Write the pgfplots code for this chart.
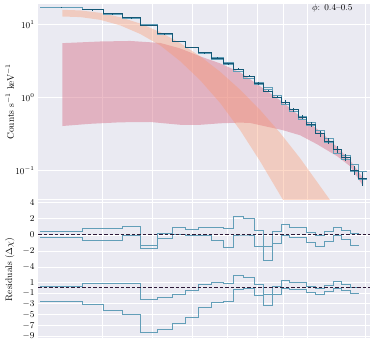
\documentclass[border=0pt]{standalone}
\usepackage{pgfplots}
\pgfplotsset{compat=1.18}
\definecolor{bg}{RGB}{234,234,242}
\definecolor{dteal}{RGB}{20,88,118}
\definecolor{lteal}{RGB}{98,158,184}
\definecolor{pinkb}{RGB}{215,110,135}
\definecolor{orab}{RGB}{252,150,105}
\definecolor{zline}{RGB}{45,25,55}

\pgfplotsset{
  spanel/.style={
    scale only axis, width=332bp,
    axis background/.style={fill=bg},
    axis line style={draw=none},
    grid=major, major grid style={white, line width=0.9bp},
    major tick length=0pt, minor tick length=0pt,
    xmin=3.0, xmax=13.25,
    xtick={4,5,6,7,8,9,10,13}, xticklabels={}, minor xtick={},
    tick label style={font=\fontsize{9}{10}\selectfont},
    label style={font=\fontsize{9.5}{11}\selectfont},
  },
  resid/.style={lteal, line width=0.75bp, const plot mark left, no marks},
  zero/.style={zline, line width=1bp, dash pattern=on 3.5bp off 2bp},
}

\begin{document}
\begin{tikzpicture}
\path[use as bounding box] (0,0) rectangle (374bp,345bp);

% spectrum
\begin{axis}[xmode=log, ymode=log, spanel, at={(38bp,145.5bp)}, anchor=south west, height=195.5bp,
  ymin=0.04, ymax=19.3, ytick={0.1,1,10}, minor ytick={},
  ylabel={Counts s$^{-1}$ keV$^{-1}$},
  ylabel style={at={(axis description cs:-0.085,0.5)}, anchor=center}]
  % power-law component band
  \addplot[draw=none, fill=pinkb, fill opacity=0.45] coordinates {
    (3.346,5.60) (3.964,5.90) (4.534,6.00) (5.185,5.63) (5.670,4.74) (6.201,3.68)
    (6.781,2.95) (7.415,2.22) (8.108,1.43) (8.867,0.918) (9.694,0.5545) (10.60,0.3455)
    (11.44,0.2085) (12.12,0.1384) (12.85,0.0784)
    (12.85,0.061) (12.12,0.1145) (11.44,0.157) (10.46,0.229) (9.694,0.3045) (8.987,0.3565)
    (7.754,0.449) (7.415,0.4545) (6.781,0.4446) (6.201,0.424) (5.670,0.424) (4.958,0.4633)
    (4.335,0.4588) (3.791,0.4376) (3.346,0.408)};
  % thermal component band
  \addplot[draw=none, fill=orab, fill opacity=0.36] coordinates {
    (3.346,16.05) (3.626,15.75) (3.964,14.6) (4.335,12.7) (4.74,10.4) (5.185,7.92)
    (5.670,5.60) (6.201,3.69) (6.781,2.26) (7.415,1.28) (8.108,0.674) (8.867,0.327)
    (9.694,0.147) (10.60,0.061) (11.09,0.039) (11.59,0.0233)
    (9.694,0.0126) (8.987,0.039) (8.108,0.133) (7.415,0.356) (6.781,0.841) (6.201,1.73)
    (5.670,3.16) (5.185,5.21) (4.74,7.48) (4.335,9.81) (3.964,11.7) (3.626,12.75) (3.346,13.0)};
  % models
  \addplot[lteal, line width=0.75bp, const plot mark left, no marks] coordinates {
    (3.03,17.32) (3.66,16.07) (4.02,14.06) (4.37,12.32) (4.74,9.99) (5.11,7.48) (5.47,5.86)
    (5.80,4.86) (6.15,4.035) (6.51,3.40) (6.87,2.86) (7.19,2.27) (7.53,1.85) (7.89,1.53)
    (8.23,1.296) (8.57,1.00) (8.91,0.81) (9.24,0.646) (9.60,0.509) (9.98,0.418) (10.39,0.321)
    (10.82,0.242) (11.24,0.174) (11.67,0.141) (12.12,0.098) (12.59,0.075) (13.08,0.075)};
  \addplot[lteal, line width=0.75bp, const plot mark left, no marks] coordinates {
    (3.03,17.45) (3.66,16.31) (4.02,14.31) (4.37,12.5) (4.74,10.05) (5.11,7.56) (5.47,5.95)
    (5.80,4.93) (6.15,4.135) (6.51,3.55) (6.87,3.04) (7.19,2.44) (7.53,1.98) (7.89,1.636)
    (8.23,1.382) (8.57,1.07) (8.91,0.874) (9.24,0.696) (9.60,0.552) (9.98,0.460) (10.39,0.361)
    (10.82,0.273) (11.24,0.198) (11.67,0.161) (12.12,0.120) (12.59,0.098) (13.08,0.098)};
  % data
  \addplot[dteal, line width=0.85bp, const plot mark left, no marks] coordinates {
    (3.66,16.2) (4.02,14.2) (4.37,12.5) (4.74,9.8) (5.11,7.5) (5.47,5.96)
    (5.80,4.93) (6.15,4.13) (6.51,3.49) (6.87,2.92) (7.19,2.44) (7.53,1.98) (7.89,1.56)
    (8.23,1.23) (8.57,1.02) (8.91,0.87) (9.24,0.685) (9.60,0.542) (9.98,0.427) (10.39,0.321)
    (10.82,0.254) (11.24,0.196) (11.67,0.151) (12.12,0.101) (12.59,0.078) (13.08,0.078)};
  % error bars
  \addplot[draw=none, no markers, error bars/.cd, y dir=both, y explicit, error mark=none,
    error bar style={draw=dteal, line width=0.85bp}] coordinates {
    (3.33,17.4) +- (0,0.17) (3.83,16.2) +- (0,0.16) (4.19,14.2) +- (0,0.17)
    (4.55,12.5) +- (0,0.16) (4.92,9.8) +- (0,0.15) (5.29,7.5) +- (0,0.13)
    (5.63,5.96) +- (0,0.11) (5.97,4.93) +- (0,0.10) (6.32,4.13) +- (0,0.095)
    (6.69,3.49) +- (0,0.087) (7.03,2.92) +- (0,0.082) (7.36,2.44) +- (0,0.073)
    (7.71,1.98) +- (0,0.065) (8.06,1.56) +- (0,0.056) (8.40,1.23) +- (0,0.049)
    (8.74,1.02) +- (0,0.046) (9.07,0.87) +- (0,0.044) (9.42,0.685) +- (0,0.041)
    (9.79,0.542) +- (0,0.038) (10.18,0.427) +- (0,0.034) (10.60,0.321) +- (0,0.029)
    (11.02,0.254) +- (0,0.025) (11.45,0.196) +- (0,0.022) (11.89,0.151) +- (0,0.018)
    (12.35,0.101) +- (0,0.015) (12.83,0.078) +- (0,0.017)};
  \node[anchor=east, inner sep=0pt, font=\fontsize{9}{10}\selectfont]
    at (axis description cs:0.948,0.978) {$\phi$: 0.4--0.5};
\end{axis}

% residuals, fit 1
\begin{axis}[xmode=log, spanel, at={(38bp,75.5bp)}, anchor=south west, height=69bp,
  ymin=-4.25, ymax=4.25, ytick={-4,-2,0,2,4},
  ylabel={Residuals ($\Delta\chi$)},
  ylabel style={at={(axis description cs:-0.085,0)}, anchor=center}]
  \addplot[resid] coordinates {
    (3.03,0.47) (3.66,0.8) (4.02,0.8) (4.37,1.1) (4.74,-1.29) (5.11,0.14) (5.47,0.88)
    (5.80,0.67) (6.15,1.0) (6.51,1.0) (6.87,0.76) (7.19,2.3) (7.53,2.0) (7.89,0.55)
    (8.23,-1.35) (8.57,0.4) (8.91,1.37) (9.24,0.96) (9.60,0.88) (9.98,0.27) (10.39,0.0)
    (10.82,0.47) (11.24,1.0) (11.67,0.55) (12.12,0.18) (12.59,0.18)};
  \addplot[resid] coordinates {
    (3.03,-0.27) (3.66,-0.67) (4.02,-0.67) (4.37,0.0) (4.74,-1.66) (5.11,-0.43) (5.47,0.05)
    (5.80,-0.04) (6.15,-0.05) (6.51,-0.67) (6.87,-1.5) (7.19,0.0) (7.53,0.0) (7.89,-1.35)
    (8.23,-3.1) (8.57,-1.08) (8.91,-0.1) (9.24,-0.27) (9.60,-0.27) (9.98,-0.96) (10.39,-1.37)
    (10.82,-0.76) (11.24,-0.1) (11.67,-0.55) (12.12,-1.25) (12.59,-1.25)};
  \addplot[zero] coordinates {(3.0,0) (13.25,0)};
\end{axis}

% residuals, fit 2
\begin{axis}[xmode=log, spanel, at={(38bp,7bp)}, anchor=south west, height=67.5bp,
  ymin=-9.3, ymax=3.15, ytick={1,-1,-3,-5,-7,-9}]
  \addplot[resid] coordinates {
    (3.03,0.3) (3.66,0.7) (4.02,0.7) (4.37,0.7) (4.74,-2.25) (5.11,-1.88) (5.47,-1.33)
    (5.80,-0.53) (6.15,0.5) (6.51,0.88) (6.87,0.7) (7.19,2.23) (7.53,1.9) (7.89,0.5)
    (8.23,-1.3) (8.57,0.27) (8.91,1.3) (9.24,0.88) (9.60,0.88) (9.98,0.27) (10.39,-0.1)
    (10.82,0.39) (11.24,1.1) (11.67,0.5) (12.12,0.08) (12.59,0.08)};
  \addplot[resid] coordinates {
    (3.03,-2.56) (3.66,-3.17) (4.02,-4.22) (4.37,-5.0) (4.74,-8.33) (5.11,-7.7) (5.47,-6.67)
    (5.80,-5.56) (6.15,-3.72) (6.51,-2.8) (6.87,-2.56) (7.19,-0.4) (7.53,-0.1) (7.89,-1.46)
    (8.23,-3.2) (8.57,-1.33) (8.91,-0.1) (9.24,-0.35) (9.60,-0.35) (9.98,-0.85) (10.39,-1.33)
    (10.82,-0.72) (11.24,-0.1) (11.67,-0.53) (12.12,-1.15) (12.59,-1.15)};
  \addplot[zero] coordinates {(3.0,0) (13.25,0)};
\end{axis}
\end{tikzpicture}
\end{document}
